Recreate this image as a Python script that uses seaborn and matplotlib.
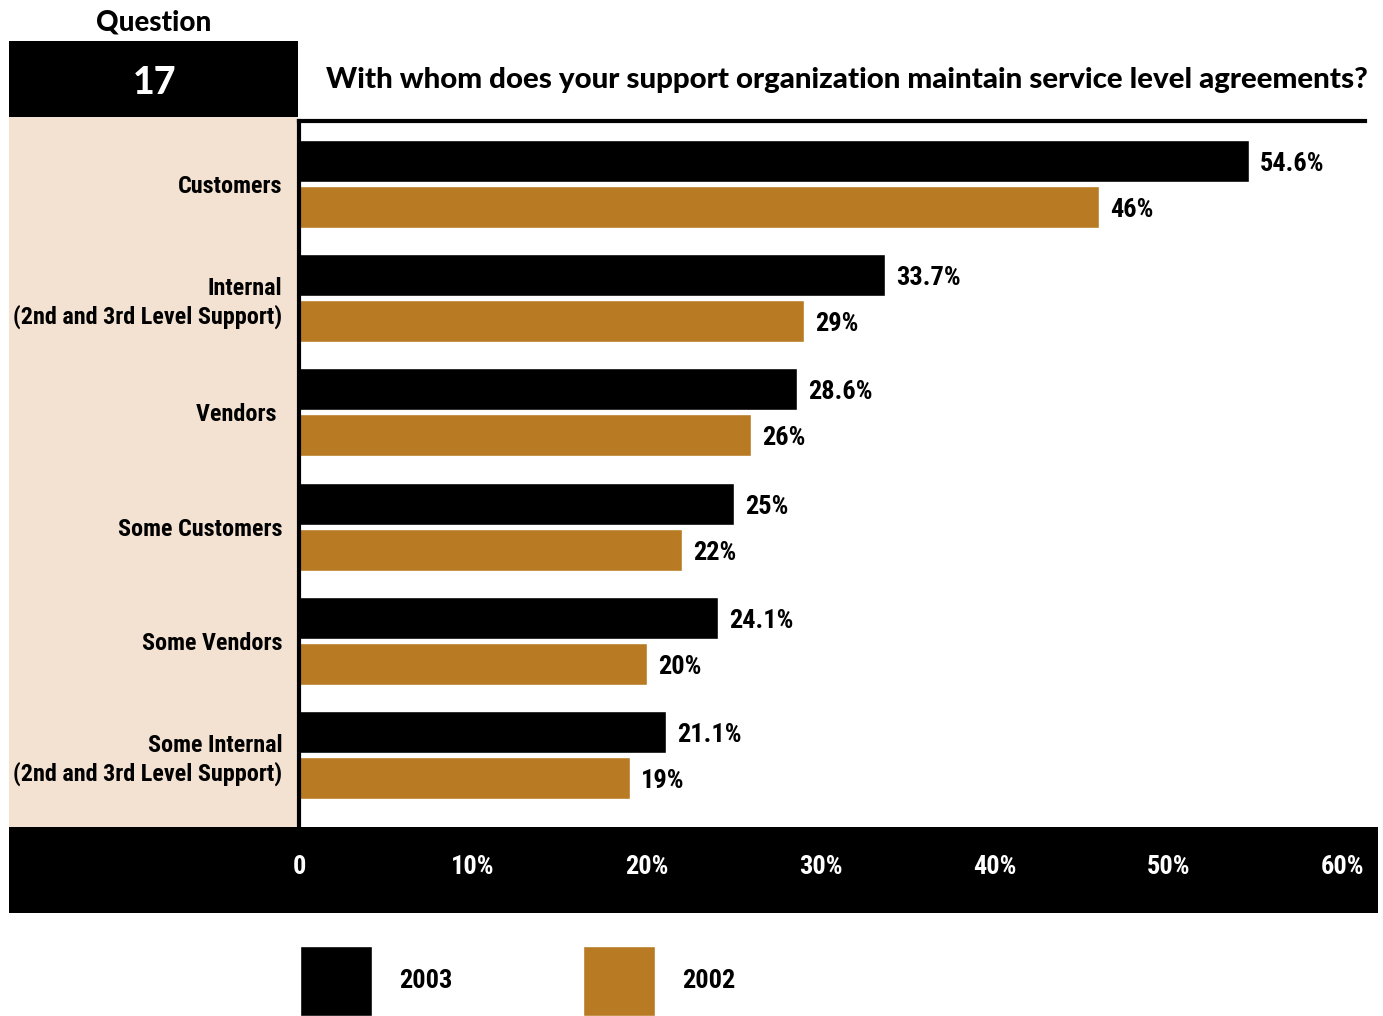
import matplotlib
matplotlib.use("Agg")
import matplotlib.pyplot as plt
from matplotlib import font_manager as fm
from matplotlib.patches import Rectangle
import seaborn as sns
import pandas as pd

# --- data -----------------------------------------------------------------
categories = [
    "Customers",
    "Internal\n(2nd and 3rd Level Support)",
    "Vendors ",
    "Some Customers",
    "Some Vendors",
    "Some Internal\n(2nd and 3rd Level Support)",
]
values_2003 = [54.6, 33.7, 28.6, 25.0, 24.1, 21.1]
values_2002 = [46.0, 29.0, 26.0, 22.0, 20.0, 19.0]
years = ["2003", "2002"]
x_ticks = [0, 10, 20, 30, 40, 50, 60]
x_tick_labels = ["0", "10%", "20%", "30%", "40%", "50%", "60%"]
question_no = "17"
question = "With whom does your support organization maintain service level agreements?"

GOLD = "#B87A22"
BEIGE = "#F3E2D2"

# --- fonts ----------------------------------------------------------------
available = {f.name for f in fm.fontManager.ttflist}
NARROW = next((n for n in ["Liberation Sans Narrow", "Roboto Condensed",
                           "Open Sans Condensed", "DejaVu Sans"] if n in available),
              "DejaVu Sans")
HEAVY = next((n for n in ["Lato", "Inter", "DejaVu Sans"] if n in available),
             "DejaVu Sans")

sns.set_style("white")
plt.rcParams["font.family"] = [NARROW, "DejaVu Sans"]
for key in ["text.color", "axes.labelcolor", "xtick.color", "ytick.color"]:
    plt.rcParams[key] = "black"

W, H = 1383, 1016
fig = plt.figure(figsize=(W / 100, H / 100), dpi=100)
renderer = fig.canvas.get_renderer()


def fx(x):
    return x / W


def fy(y):
    return 1 - y / H


def box(x0, y0, x1, y1, color, z=-1):
    fig.add_artist(Rectangle((fx(x0), fy(y1)), fx(x1) - fx(x0), fy(y0) - fy(y1),
                             transform=fig.transFigure, facecolor=color,
                             edgecolor="none", zorder=z))


def fit(t, target_px):
    w = t.get_window_extent(renderer).width
    t.set_fontsize(t.get_fontsize() * target_px / w)


# page furniture
box(9, 117, 297, 827, BEIGE)
box(9, 41, 298, 117, "black")
box(9, 827, 1378, 913, "black")

ax = fig.add_axes([fx(299), fy(827), fx(1365) - fx(299), fy(120.5) - fy(827)])
ax.set_facecolor("none")

df = pd.DataFrame({
    "Category": categories * 2,
    "Value": values_2003 + values_2002,
    "Year": [years[0]] * len(categories) + [years[1]] * len(categories),
})

sns.barplot(data=df, y="Category", x="Value", hue="Year", hue_order=years,
            order=categories, palette={years[0]: "black", years[1]: GOLD},
            orient="h", width=0.806, gap=0.087, saturation=1, ax=ax)

handles, labels = ax.get_legend_handles_labels()
if ax.get_legend() is not None:
    ax.get_legend().remove()

for cont, vals in zip(ax.containers, [values_2003, values_2002]):
    anns = ax.bar_label(cont, labels=[f"{v:g}%" for v in vals], padding=8,
                        fontsize=19, fontweight="bold", color="black")
    for ann in anns:
        ann.xyann = (8, -2.2)

ax.set_xlim(0, (1365 - 299) / 17.4)
ax.set_ylim(5.63, -0.556)
ax.set_xlabel("")
ax.set_ylabel("")
ax.set_xticks(x_ticks)
ax.set_xticklabels(x_tick_labels)
ax.tick_params(axis="x", direction="in", length=12, width=1.5, color="black",
               pad=20, labelcolor="white", labelsize=19)
ax.tick_params(axis="y", length=0, pad=12, labelsize=19, labelcolor="black")
for lab in ax.get_xticklabels() + ax.get_yticklabels():
    lab.set_fontweight("bold")
for lab in ax.get_yticklabels():
    lab.set_multialignment("right")
    lab.set_linespacing(1.25)

# category labels sized so the longest fits the side panel
ylabs = ax.get_yticklabels()
widest = max(l.get_window_extent(renderer).width for l in ylabs)
ysize = 19 * 269 / widest
ax.tick_params(axis="y", labelsize=ysize)

for side in ["right", "bottom"]:
    ax.spines[side].set_visible(False)
for side in ["top", "left"]:
    ax.spines[side].set_visible(True)
    ax.spines[side].set_linewidth(3)
    ax.spines[side].set_color("black")

# header texts
t_q = fig.text(fx(154), fy(31), "Question", ha="center", va="baseline",
               fontsize=18, fontweight="black", family=HEAVY)
fit(t_q, 115)
fig.text(fx(155), fy(94), question_no, ha="center", va="baseline", color="white",
         fontsize=27, fontweight="black", family=HEAVY)
t_title = fig.text(fx(326), fy(88), question, ha="left", va="baseline",
                   fontsize=19, fontweight="black", family=HEAVY)
fit(t_title, 1039)

# legend
leg = fig.legend(handles, labels, loc="upper left",
                 bbox_to_anchor=(fx(300), fy(946)), ncol=2, frameon=False,
                 fontsize=19, handlelength=2.73, handleheight=3.70,
                 handletextpad=1.02, columnspacing=4.95, borderpad=0,
                 borderaxespad=0)
for txt in leg.get_texts():
    txt.set_fontweight("bold")

fig.savefig("out.png", dpi=100)
